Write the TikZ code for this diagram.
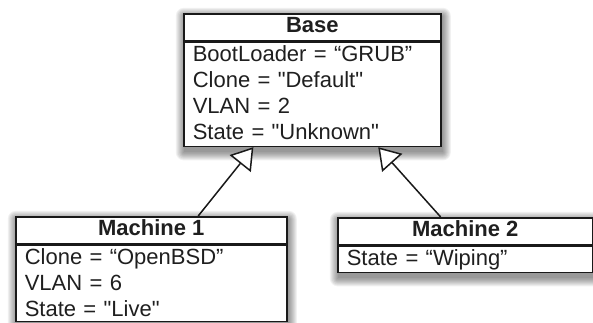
\documentclass[tikz,border=0pt]{standalone}
\usepackage{fontspec}
\setmainfont{Liberation Sans}
\usetikzlibrary{arrows.meta,calc,fit,backgrounds}

% struts giving every row of a class box the same height
\newcommand{\headrow}{\rule[-8pt]{0pt}{27pt}}
\newcommand{\bodyrow}{\rule[-7pt]{0pt}{26pt}}
\newcommand{\shortrow}{\rule[-5pt]{0pt}{24pt}}
% straight double quotes
\newcommand{\sq}[1]{\textquotedbl#1\textquotedbl}
% soft drop shadow under a node, built from stacked translucent rectangles
\newcommand{\softshadow}[1]{%
  \foreach \g in {0,1,...,8}{%
    \fill[black, opacity=0.055, rounded corners=\g pt]
      ($(#1.north west)+(1pt-\g pt,-3pt+\g pt)$) rectangle
      ($(#1.south east)+(1pt+\g pt,-5pt-\g pt)$);
  }}

\begin{document}
\begin{tikzpicture}[x=1pt,y=1pt,
  every node/.style={font=\fontsize{22}{26}\selectfont, text=black!88},
  boxline/.style={draw=black!90, line width=1.6pt},
  classhead/.style={boxline, fill=white, inner xsep=9pt, inner ysep=0pt,
    font=\fontsize{22}{26}\selectfont\bfseries, anchor=north west},
  classbody/.style={boxline, fill=white, inner xsep=9pt, inner ysep=0pt,
    align=left, anchor=north west},
  outline/.style={inner sep=0pt},
  inherits/.style={draw=black!90, line width=1.5pt,
    -{Triangle[open, fill=white, length=21pt, width=27pt, line width=1.5pt]}}
]
\useasboundingbox (0,0) rectangle (593,-322);

% superclass
\node[classhead, minimum width=257pt] (baseh) at (183,-13) {\headrow Base};
\node[classbody, text width=239pt] (baseb) at (baseh.south west)
  {\bodyrow BootLoader = “GRUB”\\
   \bodyrow Clone = \sq{Default}\\
   \bodyrow VLAN = 2\\
   \bodyrow State = \sq{Unknown}};

% subclasses
\node[classhead, minimum width=271pt] (m1h) at (15,-216) {\headrow Machine 1};
\node[classbody, text width=253pt] (m1b) at (m1h.south west)
  {\bodyrow Clone = “OpenBSD”\\
   \bodyrow VLAN = 6\\
   \shortrow State = \sq{Live}};

\node[classhead, minimum width=255pt] (m2h) at (337,-217) {\headrow Machine 2};
\node[classbody, text width=237pt] (m2b) at (m2h.south west)
  {\bodyrow State = “Wiping”};

% drop shadows behind each class box
\begin{scope}[on background layer]
  \node[outline, fit=(baseh)(baseb)] (bases) {};
  \node[outline, fit=(m1h)(m1b)] (m1s) {};
  \node[outline, fit=(m2h)(m2b)] (m2s) {};
  \softshadow{bases}
  \softshadow{m1s}
  \softshadow{m2s}
\end{scope}

% generalisation arrows
\draw[inherits] ($(m1h.north west)!0.672!(m1h.north east)$)
  -- ($(baseb.south west)!0.272!(baseb.south east)$);
\draw[inherits] ($(m2h.north west)!0.404!(m2h.north east)$)
  -- ($(baseb.south west)!0.755!(baseb.south east)$);
\end{tikzpicture}
\end{document}
